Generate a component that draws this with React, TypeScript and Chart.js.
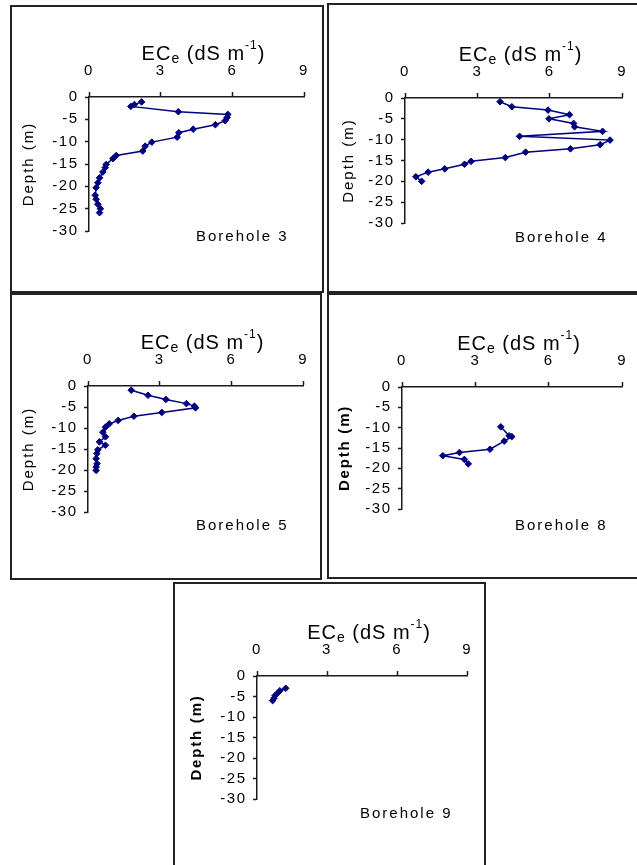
import React, { useEffect, useRef } from "react";
import { Chart, registerables } from "chart.js";

Chart.register(...registerables);

// ---- tick labels ----
const ecTicks = [0, 3, 6, 9];
const depthTicks = [0, -5, -10, -15, -20, -25, -30];

// ---- Borehole 3 ----
const ec3 = [2.2, 1.9, 1.75, 3.74, 5.81, 5.78, 5.7, 5.29, 4.36, 3.76, 3.69, 2.63, 2.35, 2.25, 1.14, 1.0, 0.72, 0.68, 0.58, 0.44, 0.37, 0.3, 0.26, 0.3, 0.37, 0.48, 0.44];
const depth3 = [-1.1, -1.7, -2.1, -3.3, -3.9, -4.6, -5.3, -6.2, -7.2, -8.0, -9.0, -10.1, -11.0, -12.1, -13.1, -13.8, -15.1, -15.8, -16.8, -18.1, -19.2, -20.3, -22.0, -22.9, -24.0, -25.0, -25.9];

// ---- Borehole 4 ----
const ec4 = [3.94, 4.43, 5.93, 6.82, 5.97, 6.99, 7.03, 8.19, 4.75, 8.5, 8.09, 6.86, 5.0, 4.16, 2.74, 2.47, 1.65, 0.96, 0.45, 0.69];
const depth4 = [-0.9, -2.1, -2.9, -4.0, -5.0, -6.1, -6.9, -8.0, -9.2, -10.1, -11.2, -12.2, -13.0, -14.3, -15.2, -15.9, -17.0, -17.8, -18.9, -20.0];

// ---- Borehole 5 ----
const ec5 = [1.81, 2.51, 3.26, 4.12, 4.45, 4.5, 3.09, 1.92, 1.26, 0.89, 0.73, 0.62, 0.73, 0.48, 0.73, 0.41, 0.37, 0.34, 0.38, 0.34, 0.34];
const depth5 = [-1.0, -2.2, -3.2, -4.2, -4.8, -5.2, -6.3, -7.2, -8.2, -9.0, -9.8, -11.0, -12.1, -13.3, -14.1, -15.2, -16.1, -17.3, -18.5, -19.3, -20.1];

// ---- Borehole 8 ----
const ec8 = [4.04, 4.38, 4.49, 4.18, 3.6, 2.35, 1.67, 2.55, 2.71];
const depth8 = [-9.8, -12.0, -12.2, -13.3, -15.3, -16.1, -16.9, -17.8, -18.9];

// ---- Borehole 9 ----
const ec9 = [1.23, 0.98, 0.88, 0.77, 0.73, 0.67];
const depth9 = [-3.0, -3.6, -4.2, -4.8, -5.4, -6.0];

const FONT = "'Liberation Sans', Arial, sans-serif";
const LINE = "#000080";
const AXIS = "#1a1a1a";

type Panel = {
  name: string;
  ec: number[];
  depth: number[];
  box: { l: number; t: number; w: number; h: number };
  area: { l: number; t: number; r: number; b: number };
  depthX: number;
  bold: boolean;
  label: { x: number; y: number };
};

const panels: Panel[] = [
  { name: "Borehole 3", ec: ec3, depth: depth3, box: { l: 10, t: 5, w: 314, h: 288 }, area: { l: 89, t: 97, r: 304, b: 231 }, depthX: 28.5, bold: false, label: { x: 196, y: 241 } },
  { name: "Borehole 4", ec: ec4, depth: depth4, box: { l: 327, t: 3, w: 314, h: 290 }, area: { l: 405, t: 98, r: 624, b: 223 }, depthX: 349, bold: false, label: { x: 515, y: 241.5 } },
  { name: "Borehole 5", ec: ec5, depth: depth5, box: { l: 10, t: 293, w: 312, h: 287 }, area: { l: 88, t: 386, r: 306, b: 512 }, depthX: 29, bold: false, label: { x: 196, y: 530 } },
  { name: "Borehole 8", ec: ec8, depth: depth8, box: { l: 327, t: 293, w: 314, h: 286 }, area: { l: 402, t: 387, r: 623, b: 509 }, depthX: 345, bold: true, label: { x: 515, y: 530 } },
  { name: "Borehole 9", ec: ec9, depth: depth9, box: { l: 173, t: 582, w: 313, h: 290 }, area: { l: 257, t: 676, r: 471, b: 799 }, depthX: 197, bold: true, label: { x: 360, y: 818 } },
];

const BORDER = 2;

const textPlugin = {
  id: "panelText",
  beforeLayout(chart: any) {
    (chart.ctx as any).letterSpacing = "1.5px";
  },
  beforeDraw(chart: any) {
    (chart.ctx as any).letterSpacing = "1.5px";
  },
  afterDraw(chart: any, _args: any, opts: any) {
    const ctx = chart.ctx as any;
    const a = chart.chartArea;
    ctx.save();
    ctx.fillStyle = "#000";

    // x-axis title with subscript / superscript
    const parts = [
      { t: "EC", f: `20px ${FONT}`, dy: 0 },
      { t: "e", f: `14px ${FONT}`, dy: 3 },
      { t: " (dS m", f: `20px ${FONT}`, dy: 0 },
      { t: "-1", f: `12px ${FONT}`, dy: -11 },
      { t: ")", f: `20px ${FONT}`, dy: 0 },
    ];
    ctx.letterSpacing = "1px";
    ctx.textAlign = "left";
    ctx.textBaseline = "alphabetic";
    const widths = parts.map((p) => {
      ctx.font = p.f;
      return ctx.measureText(p.t).width;
    });
    const total = widths.reduce((s, w) => s + w, 0);
    let x = (a.left + a.right) / 2 + 7 - total / 2;
    const base = a.top - 37.5;
    parts.forEach((p, i) => {
      ctx.font = p.f;
      ctx.fillText(p.t, x, base + p.dy);
      x += widths[i];
    });

    // y-axis title
    ctx.save();
    ctx.letterSpacing = opts.bold ? "1.8px" : "2px";
    ctx.font = `${opts.bold ? "bold " : ""}15px ${FONT}`;
    ctx.translate(opts.depthX, (a.top + a.bottom) / 2);
    ctx.rotate(-Math.PI / 2);
    ctx.textAlign = "center";
    ctx.textBaseline = "middle";
    ctx.fillText("Depth (m)", 0, 0);
    ctx.restore();

    // borehole label
    ctx.letterSpacing = "2px";
    ctx.font = `15px ${FONT}`;
    ctx.textAlign = "left";
    ctx.textBaseline = "alphabetic";
    ctx.fillText(opts.name, opts.labelX, opts.labelY);
    ctx.restore();
  },
};

function PanelChart({ p }: { p: Panel }) {
  const ref = useRef<HTMLCanvasElement | null>(null);
  const cw = p.box.w - 2 * BORDER;
  const ch = p.box.h - 2 * BORDER;
  const ox = p.box.l + BORDER;
  const oy = p.box.t + BORDER;

  useEffect(() => {
    if (!ref.current) return;
    const areaL = p.area.l - ox;
    const areaT = p.area.t - oy;
    const areaR = p.area.r - ox;
    const areaB = p.area.b - oy;
    const tickFont = { family: FONT, size: 15 };
    const chart = new Chart(ref.current, {
      type: "scatter",
      data: {
        datasets: [
          {
            data: p.ec.map((v, i) => ({ x: v, y: p.depth[i] })),
            showLine: true,
            borderColor: LINE,
            borderWidth: 1.5,
            backgroundColor: LINE,
            pointStyle: "rectRot",
            pointRadius: 3.3,
            pointBorderWidth: 1,
            pointBackgroundColor: LINE,
            pointBorderColor: LINE,
            tension: 0,
          },
        ],
      },
      options: {
        responsive: false,
        animation: false,
        events: [],
        layout: { padding: { left: 0, top: 0, right: cw - areaR, bottom: ch - areaB } },
        scales: {
          x: {
            type: "linear",
            position: "top",
            min: 0,
            max: 9,
            afterBuildTicks: (s: any) => {
              s.ticks = ecTicks.map((v) => ({ value: v }));
            },
            afterFit: (s: any) => {
              s.height = areaT;
            },
            ticks: { font: tickFont, color: "#000", padding: 12, maxRotation: 0, autoSkip: false },
            grid: { drawOnChartArea: false, drawTicks: true, tickLength: 5, color: AXIS, tickWidth: 1.5 },
            border: { display: true, color: AXIS, width: 1.5 },
            title: { display: false },
          },
          y: {
            type: "linear",
            position: "left",
            min: -30,
            max: 0,
            afterBuildTicks: (s: any) => {
              s.ticks = depthTicks.map((v) => ({ value: v }));
            },
            afterFit: (s: any) => {
              s.width = areaL;
            },
            ticks: { font: tickFont, color: "#000", padding: 6.5, autoSkip: false },
            grid: { drawOnChartArea: false, drawTicks: true, tickLength: 4, color: AXIS, tickWidth: 1.5 },
            border: { display: true, color: AXIS, width: 1.5 },
            title: { display: false },
          },
        },
        plugins: {
          legend: { display: false },
          tooltip: { enabled: false },
          title: { display: false },
          panelText: {
            name: p.name,
            bold: p.bold,
            depthX: p.depthX - ox,
            labelX: p.label.x - ox,
            labelY: p.label.y - oy,
          },
        } as any,
      },
      plugins: [textPlugin as any],
    } as any);
    return () => chart.destroy();
  }, []);

  return (
    <div
      style={{
        position: "absolute",
        left: p.box.l,
        top: p.box.t,
        width: p.box.w,
        height: p.box.h,
        border: `${BORDER}px solid #222`,
        boxSizing: "border-box",
        background: "#fff",
      }}
    >
      <canvas ref={ref} width={cw} height={ch} style={{ display: "block", width: cw, height: ch }} />
    </div>
  );
}

export default function App() {
  return (
    <div
      style={{
        position: "absolute",
        left: 0,
        top: 0,
        width: 637,
        height: 865,
        overflow: "hidden",
        background: "#fff",
      }}
    >
      {panels.map((p) => (
        <PanelChart key={p.name} p={p} />
      ))}
    </div>
  );
}
